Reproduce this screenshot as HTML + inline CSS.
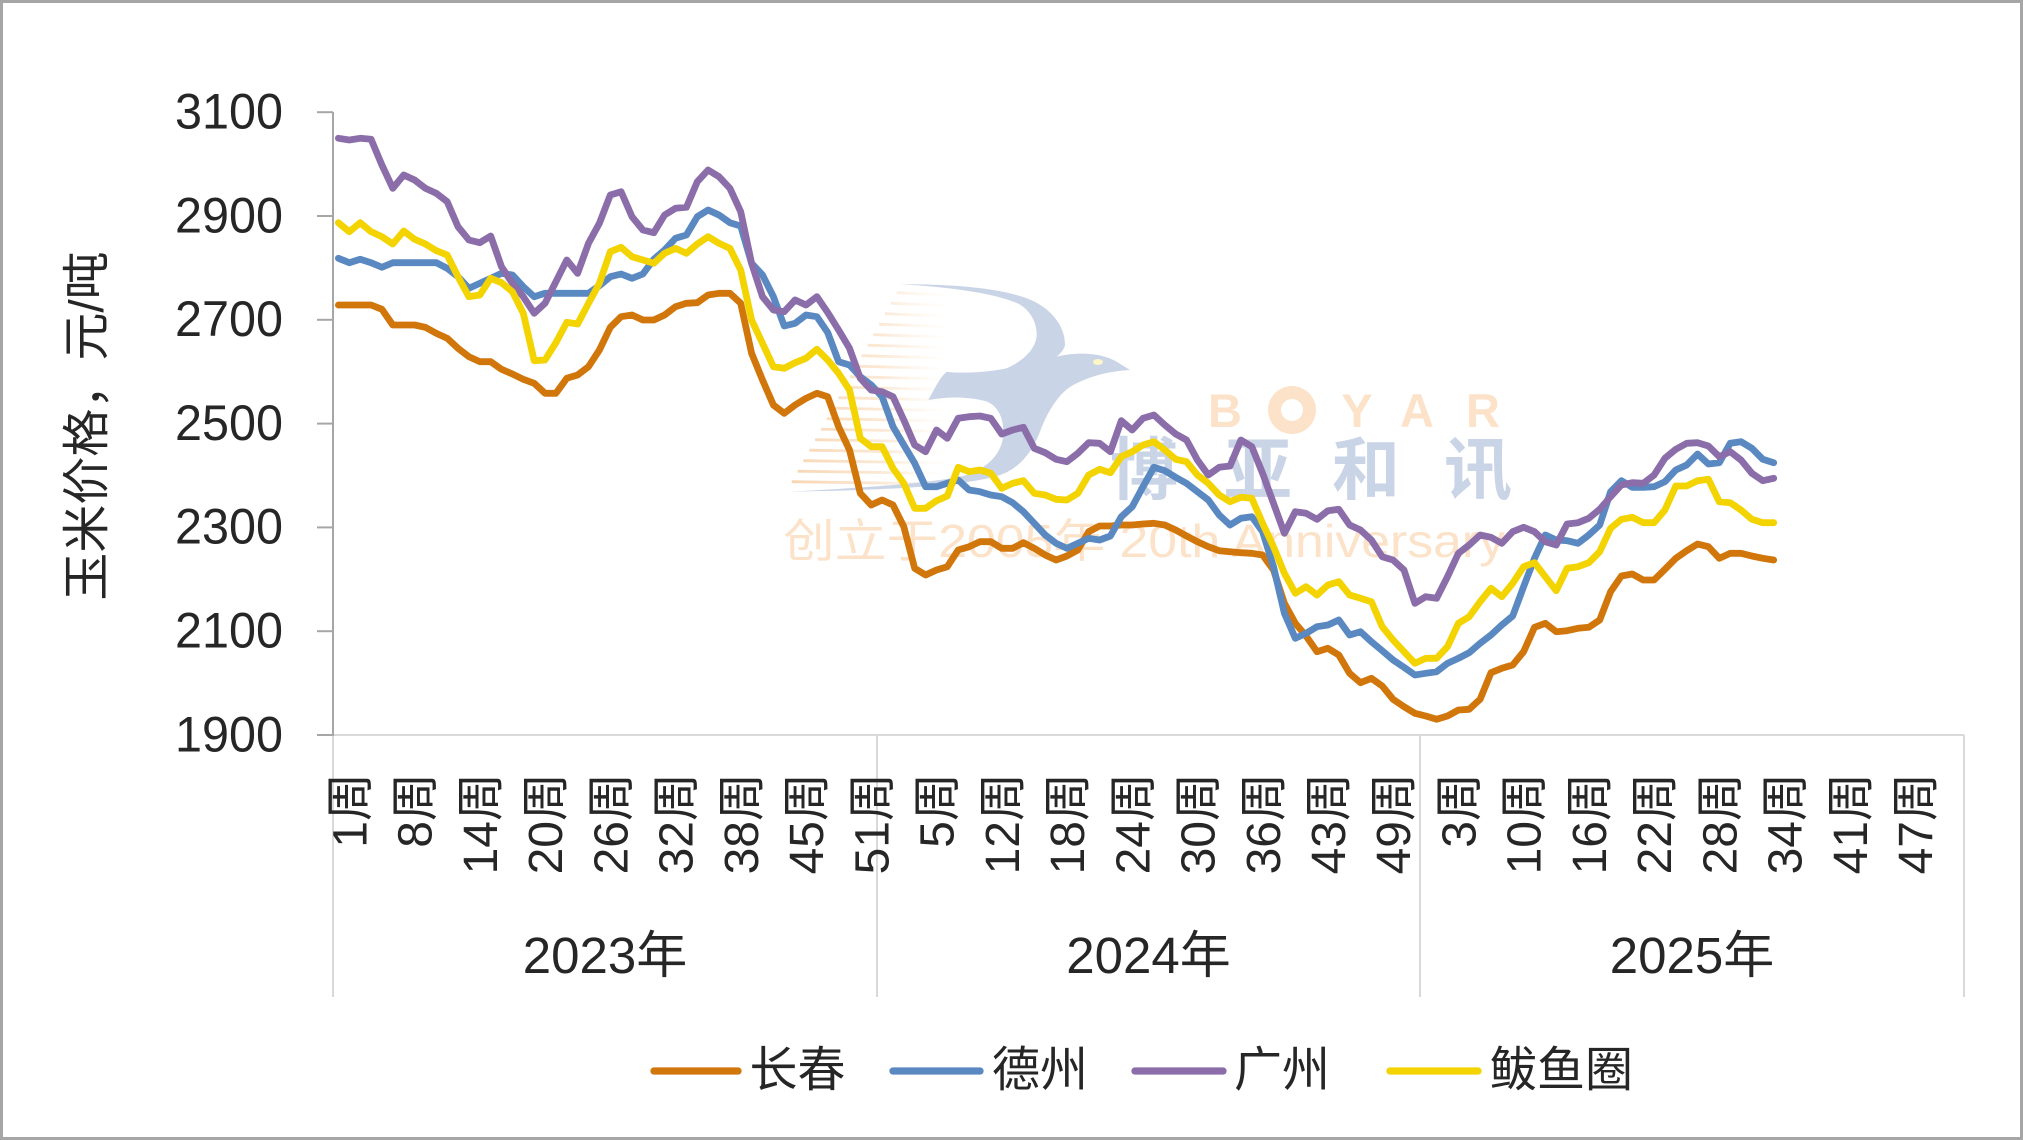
<!DOCTYPE html>
<html><head><meta charset="utf-8"><style>
html,body{margin:0;padding:0;background:#fff;}
svg{display:block;}
text{font-family:"Liberation Sans","Noto Sans CJK SC",sans-serif;fill:#262626;}
</style></head><body>
<svg width="2023" height="1140" viewBox="0 0 2023 1140" xmlns="http://www.w3.org/2000/svg">
<defs>
<linearGradient id="sg" gradientUnits="userSpaceOnUse" x1="785" y1="0" x2="945" y2="0">
<stop offset="0" stop-color="#F7CFA6" stop-opacity="0.9"/>
<stop offset="0.6" stop-color="#F9D9B8" stop-opacity="0.6"/>
<stop offset="1" stop-color="#FBE4CC" stop-opacity="0"/>
</linearGradient>
</defs>
<rect x="1.5" y="1.5" width="2020" height="1137" fill="#fff" stroke="#A6A6A6" stroke-width="3"/>

<!-- watermark -->
<g stroke="url(#sg)" stroke-width="2.8" fill="none">
<line x1="896.7" y1="292.7" x2="945" y2="295"/>
<line x1="890.9" y1="303.2" x2="945" y2="305.5"/>
<line x1="885.0" y1="313.7" x2="945" y2="316"/>
<line x1="879.2" y1="324.2" x2="945" y2="326.5"/>
<line x1="873.4" y1="334.7" x2="945" y2="337"/>
<line x1="867.5" y1="345.2" x2="945" y2="347.5"/>
<line x1="861.7" y1="355.7" x2="945" y2="358"/>
<line x1="855.9" y1="366.2" x2="945" y2="368.5"/>
<line x1="850.1" y1="376.7" x2="945" y2="379"/>
<line x1="844.2" y1="387.2" x2="945" y2="389.5"/>
<line x1="838.4" y1="397.7" x2="945" y2="400"/>
<line x1="832.6" y1="408.2" x2="945" y2="410.5"/>
<line x1="826.7" y1="418.7" x2="945" y2="421"/>
<line x1="820.9" y1="429.2" x2="945" y2="431.5"/>
<line x1="815.1" y1="439.7" x2="945" y2="442"/>
<line x1="809.3" y1="450.2" x2="945" y2="452.5"/>
<line x1="803.4" y1="460.7" x2="945" y2="463"/>
<line x1="797.6" y1="471.2" x2="945" y2="473.5"/>
<line x1="791.7" y1="481.7" x2="945" y2="484"/>
</g>
<path d="M900,284.3 C950,284 1000,288 1026.7,298.3 C1050,307 1065,325 1065,345 C1064,350 1060,354 1056.7,356.7 C1075,352 1100,352 1116.7,361.7 L1130,370 C1110,371 1090,376 1073.3,385 C1060,392 1048,410 1040,431.7 C1032,452 1020,468 1000,475 C970,485 900,490 790,491.7 C880,487 940,482 966.7,475 C990,467 1002,452 1003.3,435 C1004,418 998,405 985,401 C965,396 945,397 928.3,400 C935,388 940,377 946.7,371.7 C965,374 990,372 1006.7,368.3 C1025,360 1036,348 1036.7,335 C1037,318 1025,305 1013.3,301.7 C990,293 950,287 900,284.3 Z" fill="#CAD4E7"/>
<ellipse cx="1098" cy="362" rx="5" ry="3" fill="#FFF6C8"/>
<g font-size="47" font-weight="bold" text-anchor="middle">
<text x="1225" y="427" style="fill:#FBE2C8">B</text>
<text x="1357" y="427" style="fill:#FBE2C8">Y</text>
<text x="1417" y="427" style="fill:#FBE2C8">A</text>
<text x="1483" y="427" style="fill:#FBE2C8">R</text>
</g>
<circle cx="1292" cy="410" r="24" fill="#FBE2C8"/>
<circle cx="1292" cy="410" r="11" fill="#fff"/>
<g font-size="68" font-weight="bold" text-anchor="middle">
<text x="1144" y="494" style="fill:#CAD4E7">博</text>
<text x="1258" y="494" style="fill:#CAD4E7">亚</text>
<text x="1366" y="494" style="fill:#CAD4E7">和</text>
<text x="1478" y="494" style="fill:#CAD4E7">讯</text>
</g>
<text x="783" y="557" font-size="46" textLength="722" lengthAdjust="spacingAndGlyphs" style="fill:#FBE2C8">创立于2005年 20th Anniversary</text>

<!-- axes -->
<g stroke="#D9D9D9" stroke-width="2">
<line x1="333" y1="735" x2="1964" y2="735"/>
<line x1="333" y1="735" x2="333" y2="997"/>
<line x1="877" y1="735" x2="877" y2="997"/>
<line x1="1420" y1="735" x2="1420" y2="997"/>
<line x1="1964" y1="735" x2="1964" y2="997"/>
</g>
<g stroke="#A6A6A6" stroke-width="2">
<line x1="333" y1="112" x2="333" y2="736"/>
<line x1="317" y1="112.2" x2="333" y2="112.2"/>
<line x1="317" y1="216.0" x2="333" y2="216.0"/>
<line x1="317" y1="319.8" x2="333" y2="319.8"/>
<line x1="317" y1="423.6" x2="333" y2="423.6"/>
<line x1="317" y1="527.4" x2="333" y2="527.4"/>
<line x1="317" y1="631.2" x2="333" y2="631.2"/>
<line x1="317" y1="735" x2="333" y2="735"/>
</g>
<g font-size="50" text-anchor="end">
<text x="283" y="128.5" textLength="108" lengthAdjust="spacingAndGlyphs">3100</text>
<text x="283" y="232.3" textLength="108" lengthAdjust="spacingAndGlyphs">2900</text>
<text x="283" y="336.1" textLength="108" lengthAdjust="spacingAndGlyphs">2700</text>
<text x="283" y="439.9" textLength="108" lengthAdjust="spacingAndGlyphs">2500</text>
<text x="283" y="543.7" textLength="108" lengthAdjust="spacingAndGlyphs">2300</text>
<text x="283" y="647.5" textLength="108" lengthAdjust="spacingAndGlyphs">2100</text>
<text x="283" y="751.3" textLength="108" lengthAdjust="spacingAndGlyphs">1900</text>
</g>
<text transform="translate(103,426) rotate(-90)" font-size="48" text-anchor="middle">玉米价格，元/吨</text>

<!-- x labels -->
<g font-size="48" text-anchor="end">
<text transform="translate(366.4,773) rotate(-90)">1周</text>
<text transform="translate(431.7,773) rotate(-90)">8周</text>
<text transform="translate(496.9,773) rotate(-90)">14周</text>
<text transform="translate(562.2,773) rotate(-90)">20周</text>
<text transform="translate(627.4,773) rotate(-90)">26周</text>
<text transform="translate(692.6,773) rotate(-90)">32周</text>
<text transform="translate(757.9,773) rotate(-90)">38周</text>
<text transform="translate(823.1,773) rotate(-90)">45周</text>
<text transform="translate(888.3,773) rotate(-90)">51周</text>
<text transform="translate(953.6,773) rotate(-90)">5周</text>
<text transform="translate(1018.8,773) rotate(-90)">12周</text>
<text transform="translate(1084.1,773) rotate(-90)">18周</text>
<text transform="translate(1149.3,773) rotate(-90)">24周</text>
<text transform="translate(1214.5,773) rotate(-90)">30周</text>
<text transform="translate(1279.8,773) rotate(-90)">36周</text>
<text transform="translate(1345,773) rotate(-90)">43周</text>
<text transform="translate(1410.2,773) rotate(-90)">49周</text>
<text transform="translate(1475.5,773) rotate(-90)">3周</text>
<text transform="translate(1540.7,773) rotate(-90)">10周</text>
<text transform="translate(1606,773) rotate(-90)">16周</text>
<text transform="translate(1671.2,773) rotate(-90)">22周</text>
<text transform="translate(1736.4,773) rotate(-90)">28周</text>
<text transform="translate(1801.7,773) rotate(-90)">34周</text>
<text transform="translate(1866.9,773) rotate(-90)">41周</text>
<text transform="translate(1932.1,773) rotate(-90)">47周</text>
</g>
<g font-size="51" text-anchor="middle">
<text x="605" y="973">2023年</text>
<text x="1148.5" y="973">2024年</text>
<text x="1692" y="973">2025年</text>
</g>

<!-- series -->
<g fill="none" stroke-width="6.8" stroke-linejoin="round" stroke-linecap="round">
<polyline stroke="#D1760A" points="338.4,305 349.3,305 360.2,305 371.1,305 381.9,309.3 392.8,325 403.7,325 414.6,325 425.4,327.3 436.3,333.3 447.2,338.3 458.0,348.3 468.9,356.7 479.8,361.7 490.7,361.7 501.5,369.3 512.4,374 523.3,379.3 534.2,383.3 545.0,393.3 555.9,393.3 566.8,378.3 577.6,375 588.5,366.7 599.4,350 610.3,327.3 621.1,316.7 632.0,315 642.9,320 653.8,320 664.6,315 675.5,306.7 686.4,303.3 697.3,302.7 708.1,295 719.0,293.3 729.9,293.3 740.7,303.3 751.6,353.3 762.5,380 773.4,405 784.2,413.3 795.1,405 806.0,398.3 816.9,393.3 827.7,396.7 838.6,426.7 849.5,450 860.3,493.3 871.2,505 882.1,500 893.0,505 903.8,526.7 914.7,568.3 925.6,575 936.5,570 947.3,566.7 958.2,550 969.1,546.7 980.0,541.7 990.8,541.7 1001.7,548.3 1012.6,548.3 1023.4,542.7 1034.3,548.3 1045.2,555 1056.1,560 1066.9,556 1077.8,550 1088.7,531.7 1099.6,526 1110.4,526 1121.3,525 1132.2,525 1143.0,524 1153.9,523.3 1164.8,525 1175.7,530 1186.5,536 1197.4,541.7 1208.3,546.7 1219.2,550.7 1230.0,551.7 1240.9,552.7 1251.8,553.3 1262.6,555 1273.5,570 1284.4,603.3 1295.3,623.3 1306.1,636 1317.0,651.7 1327.9,648.3 1338.8,655 1349.6,673.3 1360.5,682.7 1371.4,678.3 1382.2,686 1393.1,699.3 1404.0,706.7 1414.9,713.3 1425.7,716 1436.6,719.3 1447.5,716 1458.4,710 1469.2,709.3 1480.1,699.3 1491.0,672.7 1501.8,668.3 1512.7,665 1523.6,651.7 1534.5,627.3 1545.3,623.3 1556.2,631.7 1567.1,630.7 1578.0,628.3 1588.8,627.3 1599.7,620 1610.6,591.7 1621.4,576 1632.3,574 1643.2,580 1654.1,580 1664.9,569.3 1675.8,558.3 1686.7,550.7 1697.6,544 1708.4,546.7 1719.3,558.3 1730.2,553.3 1741.0,553.3 1751.9,556 1762.8,558.3 1773.7,560"/>
<polyline stroke="#5A89C2" points="338.4,258.3 349.3,262.7 360.2,259.3 371.1,262.7 381.9,267.3 392.8,262.7 403.7,262.7 414.6,262.7 425.4,262.7 436.3,262.7 447.2,268.3 458.0,276.7 468.9,288.3 479.8,283.3 490.7,278.3 501.5,273.3 512.4,275 523.3,286.7 534.2,296.7 545.0,293.3 555.9,293.3 566.8,293.3 577.6,293.3 588.5,293.3 599.4,285.7 610.3,276.7 621.1,274 632.0,278.3 642.9,274 653.8,259.3 664.6,250 675.5,238.3 686.4,235 697.3,216.7 708.1,210 719.0,215 729.9,222.7 740.7,226 751.6,263.3 762.5,275 773.4,296.7 784.2,326 795.1,323.3 806.0,315 816.9,316.7 827.7,332.5 838.6,361.7 849.5,365 860.3,376.7 871.2,385 882.1,396.7 893.0,426.7 903.8,445 914.7,463.3 925.6,486.7 936.5,486.7 947.3,483.3 958.2,480 969.1,490 980.0,491.7 990.8,495 1001.7,496.7 1012.6,502.7 1023.4,511.7 1034.3,523.3 1045.2,535 1056.1,543.3 1066.9,548.3 1077.8,543.3 1088.7,538.3 1099.6,540 1110.4,536 1121.3,516.7 1132.2,506.7 1143.0,486.7 1153.9,467.3 1164.8,470.7 1175.7,477.3 1186.5,483.3 1197.4,491.7 1208.3,500 1219.2,515 1230.0,525 1240.9,518.3 1251.8,516.7 1262.6,531.7 1273.5,566.7 1284.4,613.3 1295.3,638.3 1306.1,633.3 1317.0,626.7 1327.9,625 1338.8,620 1349.6,635 1360.5,631.7 1371.4,641.7 1382.2,650.7 1393.1,660 1404.0,667.3 1414.9,675 1425.7,673.3 1436.6,671.7 1447.5,663.3 1458.4,658.3 1469.2,652.7 1480.1,643.3 1491.0,635 1501.8,625 1512.7,616 1523.6,586.7 1534.5,558.3 1545.3,535 1556.2,540 1567.1,540.7 1578.0,543.3 1588.8,535 1599.7,525 1610.6,491.7 1621.4,480.7 1632.3,487.3 1643.2,487.3 1654.1,486.7 1664.9,481.7 1675.8,470 1686.7,465 1697.6,454 1708.4,464 1719.3,462.7 1730.2,443.3 1741.0,441.7 1751.9,448.3 1762.8,459.3 1773.7,462.7"/>
<polyline stroke="#8B6DAA" points="338.4,138.3 349.3,140 360.2,138.3 371.1,139.3 381.9,165 392.8,188.3 403.7,175 414.6,180 425.4,188.3 436.3,193.3 447.2,201.7 458.0,226.7 468.9,240 479.8,242.7 490.7,236 501.5,266.7 512.4,283.3 523.3,296.7 534.2,313.3 545.0,303.3 555.9,281.7 566.8,260 577.6,273.3 588.5,243.3 599.4,223.3 610.3,195 621.1,191.7 632.0,216.7 642.9,230 653.8,232.7 664.6,215 675.5,208.3 686.4,207.3 697.3,181.7 708.1,170 719.0,176.7 729.9,188.3 740.7,211.7 751.6,263.3 762.5,296.7 773.4,310 784.2,311.7 795.1,300 806.0,305 816.9,296.7 827.7,312.5 838.6,330 849.5,348.3 860.3,378.3 871.2,390 882.1,391.7 893.0,396.7 903.8,420 914.7,445 925.6,451.7 936.5,430 947.3,438.3 958.2,418.3 969.1,416.7 980.0,416 990.8,418.3 1001.7,434 1012.6,430 1023.4,427.3 1034.3,448.3 1045.2,452.7 1056.1,459.3 1066.9,461.7 1077.8,453.3 1088.7,442.7 1099.6,443.3 1110.4,451.7 1121.3,420.7 1132.2,430 1143.0,418.3 1153.9,415 1164.8,425 1175.7,434 1186.5,440 1197.4,460 1208.3,475 1219.2,467.3 1230.0,466 1240.9,440 1251.8,446.7 1262.6,473.3 1273.5,503.3 1284.4,533.3 1295.3,511.7 1306.1,513.3 1317.0,519.3 1327.9,510.7 1338.8,509.3 1349.6,525 1360.5,530 1371.4,540 1382.2,556.7 1393.1,560 1404.0,570 1414.9,603.3 1425.7,596.7 1436.6,598.3 1447.5,576.7 1458.4,553.3 1469.2,545 1480.1,535 1491.0,537.3 1501.8,543.3 1512.7,531.7 1523.6,527.3 1534.5,531.7 1545.3,541.7 1556.2,545 1567.1,524 1578.0,522.7 1588.8,518.3 1599.7,509.3 1610.6,496.7 1621.4,485 1632.3,482.7 1643.2,483.3 1654.1,475 1664.9,458.3 1675.8,449.3 1686.7,443.3 1697.6,442.7 1708.4,446 1719.3,456.7 1730.2,451.7 1741.0,460 1751.9,473.3 1762.8,480.7 1773.7,478.3"/>
<polyline stroke="#F3D300" points="338.4,222.7 349.3,231.7 360.2,222.7 371.1,231.7 381.9,236.7 392.8,244 403.7,231 414.6,239.3 425.4,244 436.3,250.7 447.2,255 458.0,276.7 468.9,296.7 479.8,295 490.7,278.3 501.5,282.7 512.4,291.7 523.3,313.3 534.2,360.7 545.0,360 555.9,342.7 566.8,322.3 577.6,324 588.5,303.3 599.4,283.3 610.3,251.7 621.1,247.3 632.0,256.7 642.9,260 653.8,263.3 664.6,253.3 675.5,248.3 686.4,253.3 697.3,244 708.1,236.7 719.0,243.3 729.9,248.3 740.7,270 751.6,320 762.5,343.3 773.4,366.7 784.2,368.3 795.1,362.7 806.0,358.3 816.9,349.3 827.7,360 838.6,373.3 849.5,390 860.3,438.3 871.2,446.7 882.1,446.7 893.0,468.3 903.8,483.3 914.7,508.3 925.6,508.3 936.5,500.7 947.3,496 958.2,467.3 969.1,471.7 980.0,470 990.8,473.3 1001.7,488.3 1012.6,483.3 1023.4,480.7 1034.3,493.3 1045.2,495 1056.1,499.3 1066.9,500 1077.8,493.3 1088.7,475 1099.6,469.3 1110.4,472.7 1121.3,456.7 1132.2,451.7 1143.0,445 1153.9,441.7 1164.8,450 1175.7,459.3 1186.5,461.7 1197.4,475 1208.3,483.3 1219.2,495 1230.0,501.7 1240.9,497.3 1251.8,498.3 1262.6,523.3 1273.5,546.7 1284.4,573.3 1295.3,593.3 1306.1,586.7 1317.0,595 1327.9,585 1338.8,581.7 1349.6,595 1360.5,598.3 1371.4,601.7 1382.2,626.7 1393.1,640 1404.0,651.7 1414.9,663.3 1425.7,658.3 1436.6,658.3 1447.5,646.7 1458.4,623.3 1469.2,616.7 1480.1,601.7 1491.0,588.3 1501.8,596.7 1512.7,583.3 1523.6,566.7 1534.5,562.7 1545.3,576.7 1556.2,590.7 1567.1,568.3 1578.0,566.7 1588.8,562.7 1599.7,551.7 1610.6,528.3 1621.4,519.3 1632.3,517.3 1643.2,522.7 1654.1,522.7 1664.9,510 1675.8,486 1686.7,486 1697.6,480.7 1708.4,479.3 1719.3,501.7 1730.2,502.7 1741.0,510 1751.9,519.3 1762.8,522.7 1773.7,522.7"/>
</g>

<!-- legend -->
<g stroke-width="7.3" stroke-linecap="round">
<line x1="654" y1="1071" x2="738" y2="1071" stroke="#D1760A"/>
<line x1="893" y1="1071" x2="980" y2="1071" stroke="#5A89C2"/>
<line x1="1135" y1="1071" x2="1223" y2="1071" stroke="#8B6DAA"/>
<line x1="1390" y1="1071" x2="1478" y2="1071" stroke="#F3D300"/>
</g>
<g font-size="48">
<text x="749.5" y="1086">长春</text>
<text x="992" y="1086">德州</text>
<text x="1234" y="1086">广州</text>
<text x="1489" y="1086">鲅鱼圈</text>
</g>
</svg>
</body></html>
